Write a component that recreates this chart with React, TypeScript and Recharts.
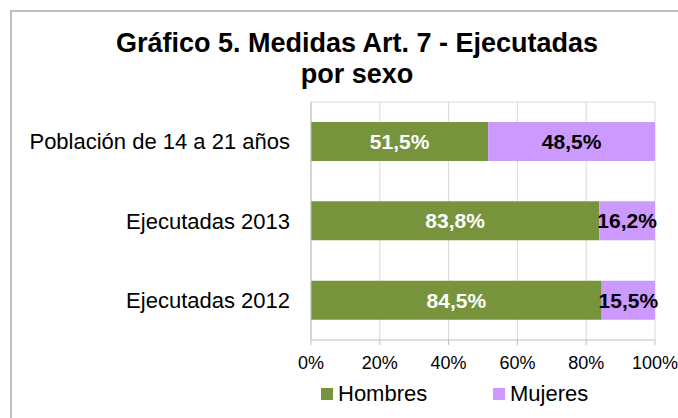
import React from 'react';
import { BarChart, Bar, XAxis, YAxis, CartesianGrid, LabelList } from 'recharts';

const categories = ['Población de 14 a 21 años', 'Ejecutadas 2013', 'Ejecutadas 2012'];
const hombres = [51.5, 83.8, 84.5];
const mujeres = [48.5, 16.2, 15.5];
const xTicks = [0, 20, 40, 60, 80, 100];
const seriesNames = ['Hombres', 'Mujeres'];
const titleLines = ['Gráfico 5. Medidas Art. 7 - Ejecutadas', 'por sexo'];

const data = categories.map((c, i) => ({ name: c, hombres: hombres[i], mujeres: mujeres[i] }));

const GREEN = '#77933C';
const PURPLE = '#CC99FF';
const colors = [GREEN, PURPLE];
const FONT = '"Liberation Sans", Arial, sans-serif';

const fmt = (v: any) => `${Number(v).toFixed(1).replace('.', ',')}%`;

export default function App() {
  return (
    <div style={{ position: 'absolute', left: 0, top: 0, width: 678, height: 418, overflow: 'hidden', background: '#fff', fontFamily: FONT }}>
      <div style={{ position: 'absolute', left: 10, top: 10, width: 720, height: 460, borderLeft: '2px solid #BFBFBF', borderTop: '2px solid #BFBFBF' }} />
      <div style={{ position: 'absolute', left: 0, top: 28, width: 714, textAlign: 'center', fontWeight: 'bold', fontSize: 27, lineHeight: '31px', color: '#000' }}>
        {titleLines.map((t) => (<div key={t}>{t}</div>))}
      </div>
      <div style={{ position: 'absolute', left: 0, top: 0 }}>
        <BarChart width={678} height={418} data={data} layout="vertical" margin={{ top: 102, right: 23, left: 0, bottom: 40 }} barSize={39}>
          <CartesianGrid horizontal={true} vertical={true} stroke="#D9D9D9"
            horizontalCoordinatesGenerator={(p: any) => [p.offset.top]} />
          <XAxis type="number" domain={[0, 100]} ticks={xTicks} tickFormatter={(v: any) => `${v}%`}
            stroke="#BFBFBF" tickSize={5} tickMargin={11} height={38}
            tick={{ fill: '#000', fontSize: 18, fontFamily: FONT }} interval={0} allowDataOverflow />
          <YAxis yAxisId={0} type="category" dataKey="name" width={311} stroke="#BFBFBF" tickLine={false}
            tickSize={6} tickMargin={15} tick={{ fill: '#000', fontSize: 22, fontFamily: FONT }} interval={0} />
          <YAxis yAxisId="bounds" type="number" domain={[0, 3]} ticks={[0, 1, 2, 3]} tick={false}
            axisLine={false} width={0} tickSize={6} stroke="#BFBFBF" />
          <Bar dataKey="hombres" name={seriesNames[0]} stackId="a" fill={GREEN} isAnimationActive={false}>
            <LabelList dataKey="hombres" position="center" formatter={fmt} fill="#fff" fontSize={21} fontWeight="bold" fontFamily={FONT} />
          </Bar>
          <Bar dataKey="mujeres" name={seriesNames[1]} stackId="a" fill={PURPLE} isAnimationActive={false}>
            <LabelList dataKey="mujeres" position="center" formatter={fmt} fill="#000" fontSize={21} fontWeight="bold" fontFamily={FONT} />
          </Bar>
        </BarChart>
      </div>
      <div style={{ position: 'absolute', left: 321, top: 381, display: 'flex' }}>
        {seriesNames.map((n, i) => (
          <div key={n} style={{ display: 'flex', alignItems: 'center', width: 172 }}>
            <div style={{ width: 12, height: 12, background: colors[i], marginRight: 5 }} />
            <span style={{ fontSize: 22, color: '#000', lineHeight: '26px' }}>{n}</span>
          </div>
        ))}
      </div>
    </div>
  );
}
